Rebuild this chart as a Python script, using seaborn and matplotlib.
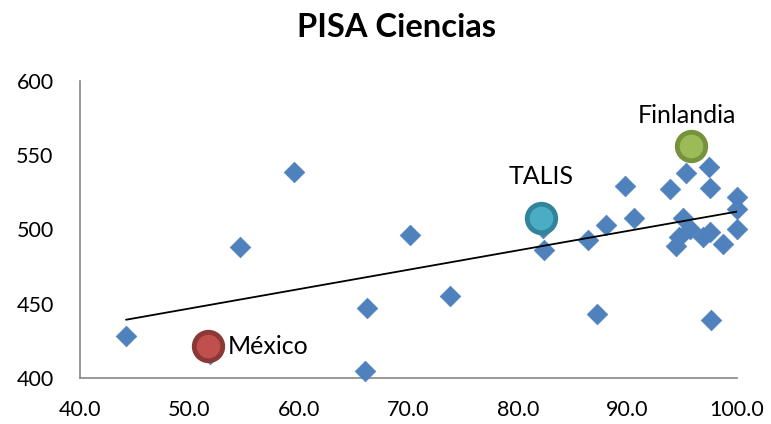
import numpy as np
import pandas as pd
import matplotlib
matplotlib.use("Agg")
import matplotlib.pyplot as plt
import seaborn as sns

# Datos
x_vals = [44.2, 54.6, 59.5, 66.2, 66.0, 70.1, 73.8, 51.9, 82.3, 82.4, 86.4, 87.2,
          88.0, 89.8, 90.6, 93.9, 95.3, 97.4, 97.5, 95.1, 95.7, 94.7, 94.4, 96.9,
          97.5, 98.7, 100.0, 100.0, 100.0, 97.6, 95.8]
y_vals = [428, 488, 539, 447, 405, 496, 455, 416, 501, 486, 493, 443,
          503, 529, 508, 527, 538, 542, 528, 508, 500, 495, 489, 495,
          498, 490, 522, 514, 500, 439, 556]

paises = ["México", "TALIS", "Finlandia"]
paises_x = [51.7, 82.1, 95.8]
paises_y = [421.5, 507.5, 556.0]
paises_color = ["#C0504D", "#4BACC6", "#9BBB59"]
paises_borde = ["#8C3836", "#31849B", "#76923C"]

df = pd.DataFrame({"x": x_vals, "y": y_vals})

sns.set_theme(style="white")
plt.rcParams["font.family"] = ["Lato", "DejaVu Sans"]
plt.rcParams["text.color"] = "black"

fig = plt.figure(figsize=(7.71, 4.24), dpi=100)
ax = fig.add_axes([0.1038, 0.1085, 0.8521, 0.7005])

sns.scatterplot(data=df, x="x", y="y", marker="D", s=110, color="#4F81BD",
                edgecolor="#4F81BD", linewidth=0.5, ax=ax, clip_on=False, zorder=3)
sns.regplot(data=df, x="x", y="y", scatter=False, ci=None, ax=ax,
            line_kws={"color": "black", "linewidth": 1.3, "zorder": 4})

for nombre, px, py, c, b in zip(paises, paises_x, paises_y, paises_color, paises_borde):
    ax.scatter(px, py, s=420, color=c, edgecolor=b, linewidth=3.5, zorder=5)

ax.annotate(paises[0], (paises_x[0], paises_y[0]), xytext=(14, 0), textcoords="offset points",
            ha="left", va="center", fontsize=18, color="black")
ax.annotate(paises[1], (paises_x[1], paises_y[1]), xytext=(0, 30), textcoords="offset points",
            ha="center", va="center", fontsize=18, color="black")
ax.annotate(paises[2], (paises_x[2], paises_y[2]), xytext=(-3, 22), textcoords="offset points",
            ha="center", va="center", fontsize=18, color="black")

ax.set_xlim(40, 100)
ax.set_ylim(400, 600)
ax.set_xticks(np.arange(40, 101, 10))
ax.set_xticklabels([f"{v:.1f}" for v in np.arange(40, 101, 10)])
ax.set_yticks(np.arange(400, 601, 50))
ax.set_xlabel("")
ax.set_ylabel("")
ax.tick_params(axis="both", direction="out", length=6, width=1.2, color="#868686",
               labelsize=15.5, labelcolor="black")
ax.tick_params(axis="y", pad=13)
ax.tick_params(axis="x", pad=10)
for lado in ["top", "right"]:
    ax.spines[lado].set_visible(False)
for lado in ["left", "bottom"]:
    ax.spines[lado].set_color("#868686")
    ax.spines[lado].set_linewidth(1.2)

fig.text(0.514, 0.935, "PISA Ciencias", ha="center", va="center",
         fontsize=23.5, fontweight="bold", color="black")

fig.savefig("out.png", dpi=100)
